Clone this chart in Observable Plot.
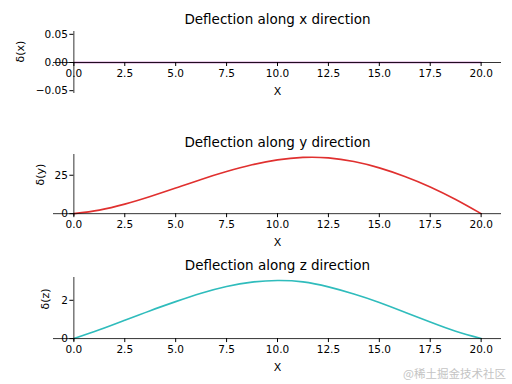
<!DOCTYPE html>
<html>
<head>
<meta charset="utf-8">
<script src="https://cdn.jsdelivr.net/npm/d3@7"></script>
<script src="https://cdn.jsdelivr.net/npm/@observablehq/plot@0.6"></script>
<style>
  html, body { margin: 0; padding: 0; background: #fff; }
  #wrap { position: relative; width: 512px; height: 384px; overflow: hidden; font-family: "DejaVu Sans", sans-serif; }
  .panel { position: absolute; left: 0; width: 512px; }
  #wm { position: absolute; right: 6px; top: 365px; font-family: "Noto Sans CJK SC", sans-serif; font-size: 11.5px; color: #c4c4c4; }
</style>
</head>
<body>
<div id="wrap">
  <div id="wm">@稀土掘金技术社区</div>
</div>
<script>
// ---- data ----
const positions = [0, 1.25, 2.5, 3.75, 5, 6.25, 7.5, 8.75, 10, 11.25, 12.5, 13.75, 15, 16.25, 17.5, 18.75, 20];
const deflectionX = [0, 0, 0, 0, 0, 0, 0, 0, 0, 0, 0, 0, 0, 0, 0, 0, 0];
const deflectionY = [0, 2.3, 6.2, 11.2, 16.7, 22.3, 27.4, 31.8, 35.0, 36.6, 36.3, 33.9, 29.8, 24.2, 17.4, 9.2, 0];
const deflectionZ = [0, 0.46, 0.96, 1.46, 1.93, 2.37, 2.72, 2.95, 3.03, 2.96, 2.70, 2.33, 1.89, 1.38, 0.86, 0.38, 0];
const xTicks = [0, 2.5, 5, 7.5, 10, 12.5, 15, 17.5, 20];
const titles = ["Deflection along x direction", "Deflection along y direction", "Deflection along z direction"];
const yLabels = ["δ(x)", "δ(y)", "δ(z)"];
const yTicksX = [-0.05, 0, 0.05];
const yTicksY = [0, 25];
const yTicksZ = [0, 2];

const panels = [
  {series: deflectionX, ticks: yTicksX, fmt: d3.format(".2f"), color: "#a33aa3", ydom: [-0.055, 0.055], top: 0, mt: 31, mb: 35, ylabX: 20},
  {series: deflectionY, ticks: yTicksY, fmt: d3.format("d"), color: "#e0302f", ydom: [-1.85, 38.5], top: 128, mt: 26, mb: 40, ylabX: 40},
  {series: deflectionZ, ticks: yTicksZ, fmt: d3.format("d"), color: "#2fbcbc", ydom: [-0.152, 3.19], top: 256, mt: 21, mb: 43, ylabX: 45}
];

const W = 512, H = 128, ML = 53, MR = 11;
const xdom = [-1, 21];
const x0px = (W - ML - MR) * (0 - xdom[0]) / (xdom[1] - xdom[0]);
const wrap = document.getElementById("wrap");

panels.forEach((p, i) => {
  const rows = positions.map((x, j) => ({x, v: p.series[j]}));
  const innerH = H - p.mt - p.mb;
  const zeroFromBottom = innerH * (0 - p.ydom[0]) / (p.ydom[1] - p.ydom[0]);
  const chart = Plot.plot({
    width: W, height: H,
    marginLeft: ML, marginRight: MR, marginTop: p.mt, marginBottom: p.mb,
    style: {fontFamily: "DejaVu Sans, sans-serif", fontSize: "10.5px", color: "#000", background: "transparent", overflow: "visible"},
    x: {domain: xdom},
    y: {domain: p.ydom},
    marks: [
      Plot.line(rows, {x: "x", y: "v", stroke: p.color, strokeWidth: 1.6, curve: "natural"}),
      Plot.ruleY([0], {x1: xdom[0], x2: xdom[1], stroke: "#000", strokeWidth: 0.8}),
      Plot.ruleX([0], {y1: p.ydom[0], y2: p.ydom[1], stroke: "#000", strokeWidth: 0.8}),
      Plot.axisX(xTicks, {anchor: "bottom", dy: -zeroFromBottom, tickSize: 4, tickPadding: 3, tickFormat: d3.format(".1f"), label: null, fontSize: 10.5, stroke: "#000"}),
      Plot.axisY(p.ticks, {anchor: "left", dx: x0px, tickSize: 4, tickPadding: 2, tickFormat: p.fmt, label: null, fontSize: 10.5, stroke: "#000"}),
      Plot.text([titles[i]], {frameAnchor: "top", dy: -17, fontSize: 13.5, fill: "#000"}),
      Plot.text(["X"], {frameAnchor: "bottom", dy: 32 - zeroFromBottom, fontSize: 11, fill: "#000"}),
      Plot.text([yLabels[i]], {frameAnchor: "left", dx: p.ylabX - ML, rotate: -90, fontSize: 11, fill: "#000"})
    ]
  });
  const div = document.createElement("div");
  div.className = "panel";
  div.style.top = p.top + "px";
  div.appendChild(chart);
  wrap.insertBefore(div, wrap.firstChild);
});
</script>
</body>
</html>
